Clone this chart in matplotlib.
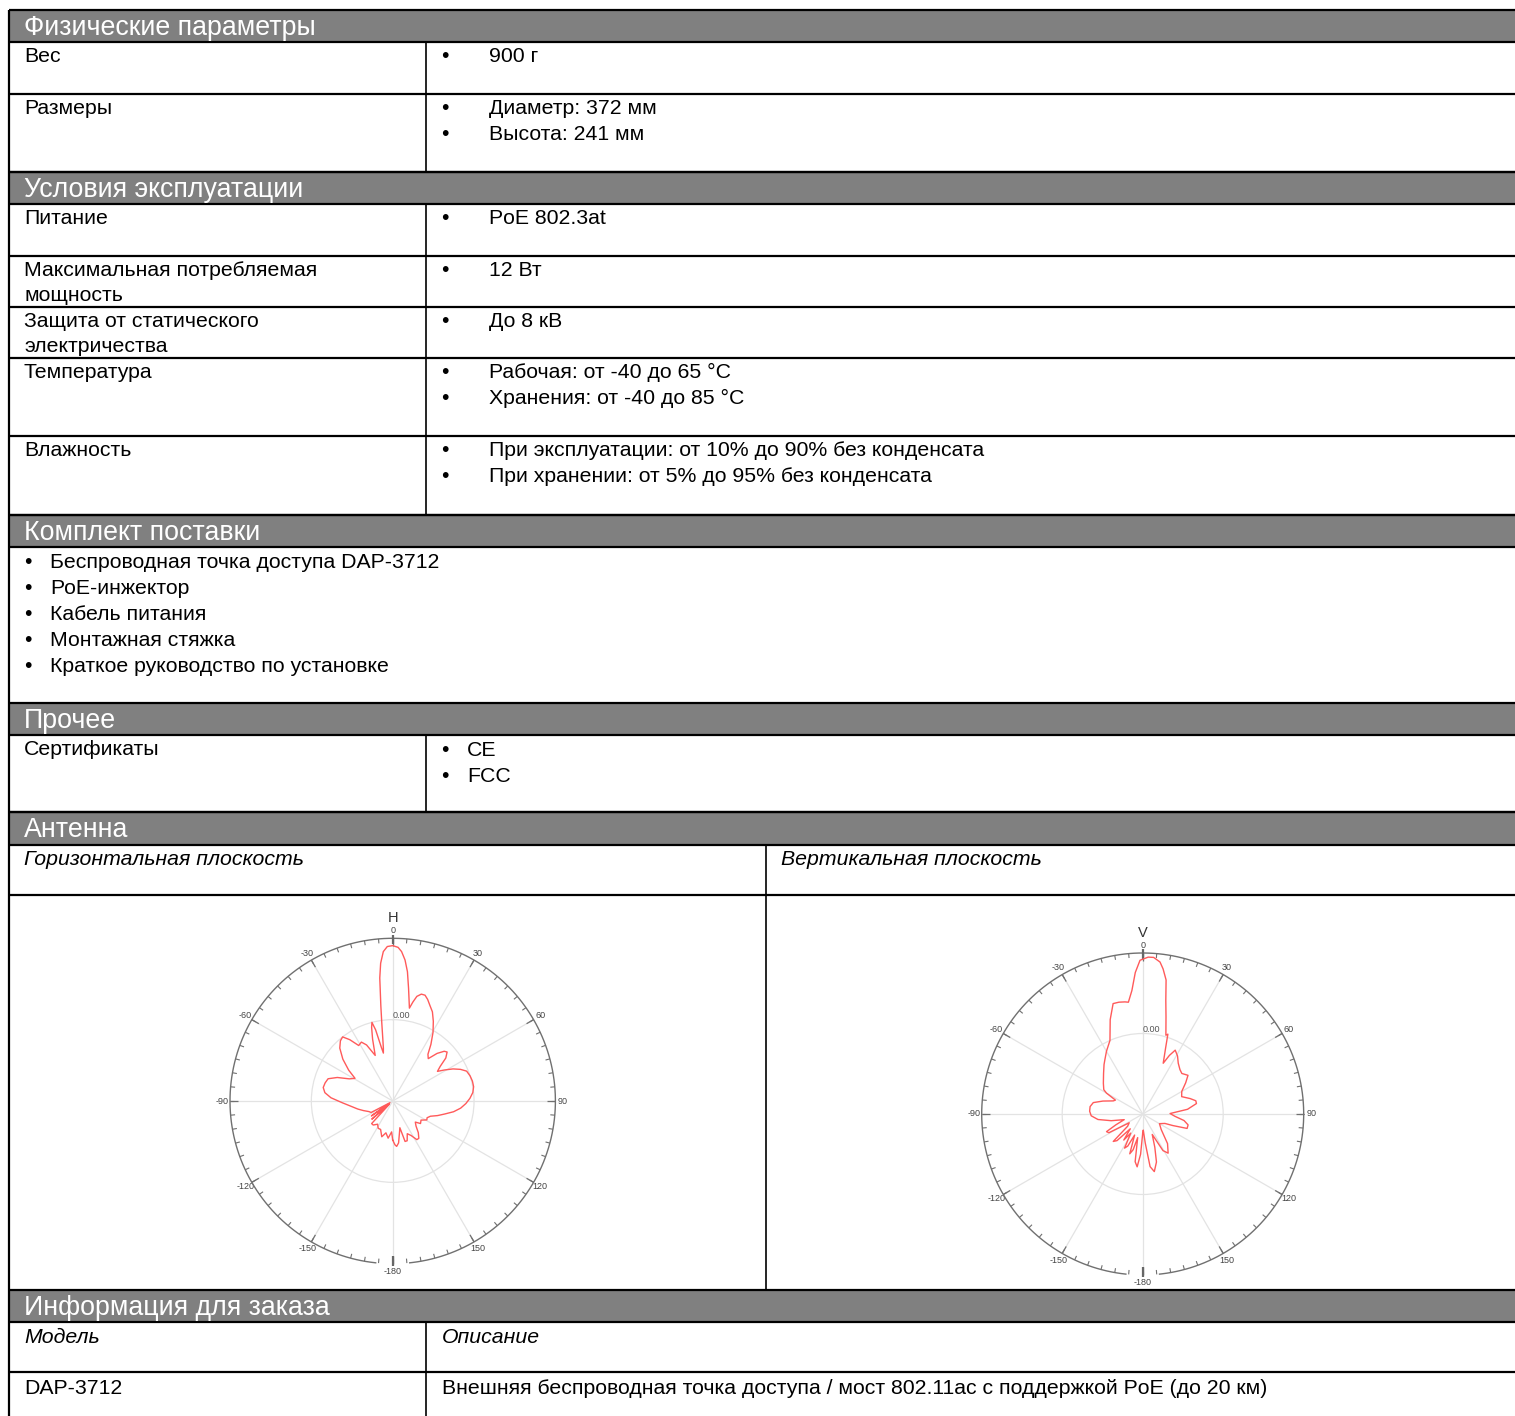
import numpy as np
import matplotlib
matplotlib.use("Agg")
import matplotlib.pyplot as plt
from matplotlib.patches import Rectangle

plt.rcParams['font.family'] = ['Liberation Sans', 'DejaVu Sans']

# ---------------- content ----------------
section_titles = ["Физические параметры", "Условия эксплуатации", "Комплект поставки",
                  "Прочее", "Антенна", "Информация для заказа"]
phys_labels = ["Вес", "Размеры"]
phys_values = [["900 г"], ["Диаметр: 372 мм", "Высота: 241 мм"]]
env_labels = ["Питание", "Максимальная потребляемая\nмощность", "Защита от статического\nэлектричества",
              "Температура", "Влажность"]
env_values = [["PoE 802.3at"], ["12 Вт"], ["До 8 кВ"],
              ["Рабочая: от -40 до 65 °C", "Хранения: от -40 до 85 °C"],
              ["При эксплуатации: от 10% до 90% без конденсата",
               "При хранении: от 5% до 95% без конденсата"]]
kit_items = ["Беспроводная точка доступа DAP-3712", "PoE-инжектор", "Кабель питания",
             "Монтажная стяжка", "Краткое руководство по установке"]
other_labels = ["Сертификаты"]
other_values = [["CE", "FCC"]]
antenna_headers = ["Горизонтальная плоскость", "Вертикальная плоскость"]
pattern_titles = ["H", "V"]
order_headers = ["Модель", "Описание"]
order_model = ["DAP-3712"]
order_desc = ["Внешняя беспроводная точка доступа / мост 802.11ac с поддержкой PoE (до 20 км)"]

theta_tick_labels = ["0", "30", "60", "90", "120", "150", "-180", "-150", "-120", "-90", "-60", "-30"]
radial_label = "0.00"

# Horizontal-plane pattern (angle deg, gain dB)
h_angle = [-180, -178, -173, -168, -163, -157, -152, -147, -141, -137, -134, -131, -128, -125, -122,
           -118, -114, -108, -103, -97, -92, -87, -83, -79, -75, -71, -67, -63, -59, -55, -50, -45,
           -41, -38, -35, -31.5, -28, -25, -21, -18, -16, -14.8, -13.5, -12, -11, -10, -9, -8, -7.1,
           -6, -5, -3.6, -2, 0, 2, 3.4, 5, 6.5, 8, 9, 10.2, 11.5, 13, 15, 17, 19, 21.3, 24, 27,
           30.4, 34, 37, 40, 43, 46, 48, 51, 54, 56.5, 59, 62, 65, 68, 72, 76, 80, 84, 88, 92, 96,
           100, 104, 108, 112, 116, 119, 124, 129, 133, 137, 141, 145, 148, 152, 156, 160, 163, 165,
           168, 172, 175, 177, 180]
h_gain = [-5.2, -6.2, -5.4, -6.0, -5.4, -6.2, -6.2, -6.6, -6.2, -6.2, -9.4, -6.6, -9.4, -6.8, -9.6,
          -7.0, -6.8, -6.2, -5.6, -4.8, -3.8, -2.4, -1.6, -1.3, -1.4, -1.6, -2.6, -4.0, -4.6, -3.4,
          -2.0, -0.8, -0.2, 0.0, -0.8, -2.0, -1.8, -2.4, -4.0, -2.0, -0.6, 0.0, -1.0, -3.2, -4.0,
          -3.4, -2.2, -0.4, 1.8, 5.2, 7.0, 8.4, 9.0, 9.1, 8.9, 8.4, 7.4, 6.0, 4.0, 2.8, 1.6, 2.4,
          3.2, 3.6, 3.6, 3.2, 2.6, 2.0, 1.0, -0.2, -1.6, -2.8, -3.2, -2.0, -1.2, -1.0, -1.6, -2.8,
          -3.4, -2.6, -1.6, -0.8, -0.2, 0.0, 0.1, 0.1, -0.1, -0.5, -1.0, -1.6, -2.4, -3.4, -4.2,
          -5.0, -5.3, -5.2, -5.8, -5.6, -6.2, -5.8, -5.0, -4.4, -4.4, -5.2, -5.6, -4.8, -4.8, -6.6,
          -6.0, -4.8, -4.4, -4.6, -5.2]

# Vertical-plane pattern (angle deg, gain dB)
v_angle = [-180, -177, -174, -171, -168, -165, -162, -159, -155, -152, -148, -144, -140, -136, -133,
           -129, -123, -119, -116, -112, -107, -102, -97, -92, -87, -82, -77, -72, -66, -63, -60,
           -58, -52, -44, -38, -35, -30, -24, -19, -15, -12, -9, -7.3, -5, -3, -1, 2, 4, 6.5, 8,
           9.9, 11.5, 13.5, 16.4, 17.5, 19, 22, 24.5, 27, 31, 35, 40, 44, 49.5, 54, 60, 66, 72, 76,
           79, 84, 89, 94, 99, 103.5, 108, 111, 113, 120, 130, 140, 147, 151, 155, 160, 164, 168.6,
           172, 175, 178, 180]
v_gain = [-7.6, -5.0, -3.4, -4.0, -7.0, -5.4, -4.8, -7.2, -5.6, -5.2, -7.2, -6.0, -7.6, -5.4, -5.0,
          -7.6, -8.0, -5.2, -5.0, -6.4, -7.6, -6.0, -4.4, -3.6, -3.4, -3.4, -3.7, -4.8, -6.0, -6.2,
          -4.8, -4.3, -3.8, -3.0, -2.2, -1.8, -1.0, 0.0, 2.4, 4.2, 4.2, 4.1, 4.0, 5.4, 7.6, 9.1,
          9.5, 9.5, 9.0, 8.2, 6.9, 4.4, 2.4, 0.2, 0.4, -1.2, -3.2, -2.0, -1.1, -1.6, -2.3, -2.8,
          -3.0, -2.6, -3.4, -4.4, -4.7, -3.8, -3.2, -3.2, -4.4, -6.6, -6.0, -4.8, -4.2, -4.2, -6.0,
          -7.0, -7.6, -7.0, -5.2, -4.2, -4.8, -7.2, -5.6, -3.8, -2.7, -3.4, -6.4, -8.0, -7.6]

# ---------------- figure ----------------
W, H = 1515, 1416
fig = plt.figure(figsize=(W / 100, H / 100), dpi=100)
ax0 = fig.add_axes([0, 0, 1, 1])
ax0.set_xlim(0, W)
ax0.set_ylim(H, 0)
ax0.axis('off')

BODY = 15.3
HEAD = 19.3
LEFT = 9
COL = 426
HDR_H = 32


def hline(y, lw=1.6):
    ax0.plot([LEFT, W], [y, y], color='black', lw=lw, solid_capstyle='butt')


def vline(x, y0, y1, lw=1.2):
    ax0.plot([x, x], [y0, y1], color='black', lw=lw, solid_capstyle='butt')


def header(y0, title, h=HDR_H):
    ax0.add_patch(Rectangle((LEFT, y0), W - LEFT, h, facecolor='#808080', edgecolor='none'))
    ax0.text(24, y0 + 25, title, color='white', fontsize=HEAD, va='baseline', ha='left')
    hline(y0)
    hline(y0 + h)
    return y0 + h


def text_lines(x, y, lines, step=26, style='normal'):
    for i, ln in enumerate(lines):
        ax0.text(x, y + i * step, ln, fontsize=BODY, va='baseline', ha='left', style=style)


def bullets(xb, xt, y, lines, step=26):
    for i, ln in enumerate(lines):
        ax0.text(xb, y + i * step, "•", fontsize=BODY, va='baseline', ha='left')
        ax0.text(xt, y + i * step, ln, fontsize=BODY, va='baseline', ha='left')


def kv_rows(y, labels, values, heights):
    for lab, vals, h in zip(labels, values, heights):
        text_lines(24, y + 20, lab.split("\n"), step=25)
        bullets(441, 489, y + 20, vals)
        vline(COL, y, y + h)
        y += h
        hline(y)
    return y


y = 10
y = header(y, section_titles[0])
y = kv_rows(y, phys_labels, phys_values, [52, 78])
y = header(y, section_titles[1])
y = kv_rows(y, env_labels, env_values, [52, 51, 51, 78, 79])
y = header(y, section_titles[2])
bullets(24, 50, y + 21, kit_items)
y += 156
y = header(y, section_titles[3])
for lab, vals in zip(other_labels, other_values):
    text_lines(24, y + 20, [lab])
    bullets(441, 467, y + 21, vals)
    vline(COL, y, y + 77)
y += 77
hline(y)
y = header(y, section_titles[4], h=33)
text_lines(24, y + 20, [antenna_headers[0]], style='italic')
text_lines(781, y + 20, [antenna_headers[1]], style='italic')
vline(766, y, y + 50 + 395)
y += 50
hline(y)
y += 395
y = header(y, section_titles[5])
text_lines(24, y + 21, [order_headers[0]], style='italic')
text_lines(442, y + 21, [order_headers[1]], style='italic')
vline(COL, y, H)
y += 50
hline(y)
text_lines(24, y + 22, order_model)
text_lines(442, y + 22, order_desc)
vline(LEFT, 10, H, lw=1.6)


# ---------------- polar patterns ----------------
def polar(cx, cy, R, ang, gain, title):
    ax = fig.add_axes([(cx - R) / W, 1 - (cy + R) / H, 2 * R / W, 2 * R / H], projection='polar')
    ax.set_theta_zero_location('N')
    ax.set_theta_direction(-1)
    ax.set_ylim(-10, 10)
    ax.set_facecolor('none')
    ax.spines['polar'].set_visible(False)
    ax.set_xticks(np.deg2rad(np.arange(0, 360, 30)))
    ax.set_xticklabels(theta_tick_labels)
    ax.tick_params(axis='x', which='major', length=0, labelsize=6.5, labelcolor='#444444', pad=-1.5)
    ax.set_yticks([0])
    ax.set_yticklabels([])
    ax.tick_params(axis='y', length=0)
    ax.grid(True, color='#e3e3e3', lw=0.9)
    # scale ring with gap at the back, and tick marks every 5 degrees
    arc = np.deg2rad(np.linspace(-174, 174, 400))
    ax.plot(arc, np.full_like(arc, 10.0), color='#707070', lw=1.0, clip_on=False)
    minor = np.deg2rad(np.arange(0, 360, 5))
    ax.vlines(minor, 9.45, 10.0, colors='#707070', lw=0.8, clip_on=False)
    major = np.deg2rad(np.arange(0, 360, 30))
    ax.vlines(major, 9.0, 10.0, colors='#707070', lw=0.9, clip_on=False)
    ax.vlines([0, np.pi], [9.3, 9.0], [10.45, 10.3], colors='#666666', lw=1.6, clip_on=False)
    ax.text(0, 0, radial_label, ha='left', va='bottom', fontsize=6.5, color='#555555')
    ax.plot(np.deg2rad(ang), gain, color='#ff5a5a', lw=1.0)
    fig.text(cx / W, 1 - (cy - R - 16) / H, title, ha='center', va='baseline', fontsize=10.5,
             color='#333333')
    return ax


polar(392.7, 1101, 162.7, h_angle, h_gain, pattern_titles[0])
polar(1142.7, 1114, 161, v_angle, v_gain, pattern_titles[1])

fig.savefig("out.png", dpi=100)
